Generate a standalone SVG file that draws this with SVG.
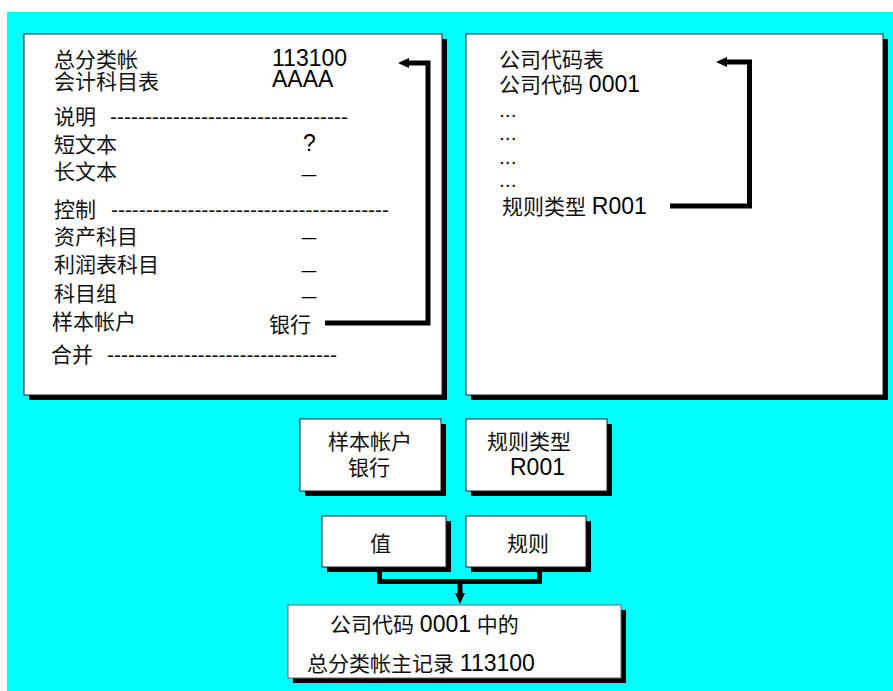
<svg xmlns="http://www.w3.org/2000/svg" width="893" height="691" viewBox="0 0 893 691">
<defs>
<style>
text{font-family:"Liberation Sans","Noto Sans CJK SC",sans-serif;font-size:21px;fill:#111}
.lat{font-size:23px;fill:#000}
.us{font-size:16px;fill:#000}
.box{fill:#fff;stroke:#222;stroke-width:1}
.sh{fill:#000}
.con{fill:none;stroke:#000;stroke-width:5;stroke-linejoin:miter}
</style>
<marker id="ah" markerUnits="userSpaceOnUse" viewBox="0 0 11 10" refX="0" refY="5" markerWidth="11" markerHeight="10" orient="auto">
<path d="M0,0 L11,5 L0,10 z" fill="#000"/>
</marker>
</defs>
<rect x="0" y="0" width="893" height="691" fill="#fff"/>
<rect x="7" y="12" width="886" height="679" fill="#00ffff"/>

<g id="gl-account">
<rect class="sh" x="29" y="39" width="418" height="361"/>
<rect class="box" x="24" y="34" width="418" height="361"/>
<text x="54" y="66.5">总分类帐</text>
<text class="lat" x="272" y="66">113100</text>
<text x="54" y="88.5">会计科目表</text>
<text class="lat" x="272" y="87">AAAA</text>
<text x="54" y="123.5">说明</text>
<text x="110" y="123.5" textLength="238" lengthAdjust="spacing">----------------------------------</text>
<text x="54" y="151.5">短文本</text>
<text class="lat" x="303" y="151">?</text>
<text x="54" y="178.5">长文本</text>
<text class="us" x="302" y="173" textLength="14" lengthAdjust="spacingAndGlyphs">_</text>
<text x="54" y="216.5">控制</text>
<text x="111" y="216.5" textLength="278" lengthAdjust="spacing">----------------------------------------</text>
<text x="54" y="243.5">资产科目</text>
<text class="us" x="302" y="236" textLength="14" lengthAdjust="spacingAndGlyphs">_</text>
<text x="54" y="271.5">利润表科目</text>
<text class="us" x="302" y="268.5" textLength="14" lengthAdjust="spacingAndGlyphs">_</text>
<text x="54" y="300.5">科目组</text>
<text class="us" x="302" y="295" textLength="14" lengthAdjust="spacingAndGlyphs">_</text>
<text x="52" y="328.5">样本帐户</text>
<text x="269" y="331.5">银行</text>
<text x="51" y="361.5">合并</text>
<text x="107" y="361.5" textLength="230" lengthAdjust="spacing">---------------------------------</text>
</g>

<g id="company-code-table">
<rect class="sh" x="471" y="39" width="417" height="361"/>
<rect class="box" x="466" y="34" width="417" height="361"/>
<text x="499" y="66.5">公司代码表</text>
<text x="499" y="91.5">公司代码 <tspan class="lat">0001</tspan></text>
<text x="499" y="117">...</text>
<text x="499" y="140">...</text>
<text x="499" y="163.5">...</text>
<text x="499" y="187">...</text>
<text x="502" y="213.5">规则类型 <tspan class="lat">R001</tspan></text>
</g>

<g id="sample-account">
<rect class="sh" x="305" y="424" width="141" height="72"/>
<rect class="box" x="300" y="419" width="141" height="72"/>
<text x="328" y="448.5">样本帐户</text>
<text x="348" y="474.5">银行</text>
</g>

<g id="rule-type">
<rect class="sh" x="471" y="424" width="141" height="72"/>
<rect class="box" x="466" y="419" width="141" height="72"/>
<text x="487" y="448.5">规则类型</text>
<text class="lat" x="510" y="475">R001</text>
</g>

<g id="value">
<rect class="sh" x="327" y="521" width="124" height="51"/>
<rect class="box" x="322" y="516" width="124" height="51"/>
<text x="370" y="550.5">值</text>
</g>

<g id="rule">
<rect class="sh" x="471" y="521" width="120" height="51"/>
<rect class="box" x="466" y="516" width="120" height="51"/>
<text x="507" y="550.5">规则</text>
</g>

<g id="result">
<rect class="sh" x="293" y="610" width="333" height="73"/>
<rect class="box" x="288" y="605" width="333" height="73" style="stroke:#666"/>
<text x="330" y="631.5">公司代码 <tspan class="lat">0001</tspan> 中的</text>
<text x="307" y="670.5">总分类帐主记录 <tspan class="lat">113100</tspan></text>
</g>

<g id="connectors">
<path class="con" d="M325 323 H428 V63 H409" marker-end="url(#ah)"/>
<path class="con" d="M670 206 H749.5 V62 H727" marker-end="url(#ah)"/>
<path class="con" d="M379.5 567 V581.5 H539.5 V567"/>
<path class="con" d="M460 581.5 V593" marker-end="url(#ah)"/>
</g>
</svg>
